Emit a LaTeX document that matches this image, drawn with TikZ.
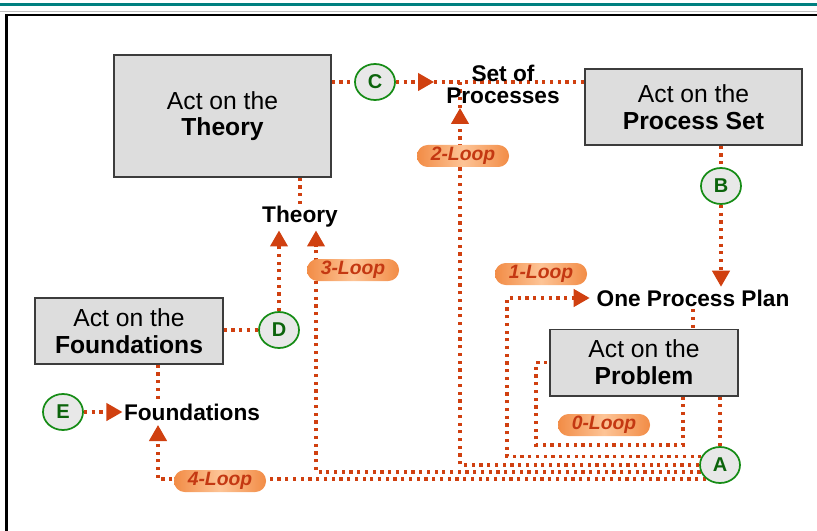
\documentclass[tikz,border=0pt]{standalone}
\usepackage{fontspec}
\setmainfont{Liberation Sans}
\usetikzlibrary{arrows.meta,calc,shapes.geometric,backgrounds}
\definecolor{flowred}{RGB}{208,64,16}
\definecolor{boxgray}{RGB}{221,221,221}
\definecolor{boxline}{RGB}{60,60,60}
\definecolor{markgreen}{RGB}{22,140,22}
\definecolor{marktext}{RGB}{12,100,12}
\definecolor{pillin}{RGB}{253,196,150}
\definecolor{pillout}{RGB}{242,140,70}
\definecolor{looptext}{RGB}{196,56,18}
\definecolor{bandteal}{RGB}{0,128,128}
\tikzset{
  act-box/.style={
    rectangle,
    draw=boxline,
    fill=boxgray,
    line width=1pt,
    align=center,
    inner sep=0pt,
    font=\fontsize{18.5}{20}\selectfont
  },
  step-circle/.style={
    ellipse,
    draw=markgreen,
    fill=black!9,
    line width=1.3pt,
    minimum width=30pt,
    minimum height=27pt,
    inner sep=0pt,
    text=marktext,
    font=\fontsize{15}{15}\selectfont\bfseries
  },
  flow-label/.style={
    align=center,
    inner sep=2pt,
    font=\fontsize{17}{16.5}\selectfont\bfseries
  },
  loop-pill/.style={
    rectangle,
    rounded corners=8pt,
    left color=pillout,
    right color=pillout,
    middle color=pillin,
    minimum width=69pt,
    minimum height=16.5pt,
    inner sep=0pt,
    text=looptext,
    font=\fontsize{14.5}{15}\selectfont\bfseries\itshape
  },
  flow/.style={
    draw=flowred,
    line width=2.4pt,
    dash pattern=on 2.4pt off 3.4pt
  },
  flow-arrow/.style={
    flow,
    -{Triangle[length=12pt,width=13pt]}
  }
}

\begin{document}
\begin{tikzpicture}[x=0.75pt,y=-0.75pt]
  \useasboundingbox (0,0) rectangle (817,531);
  % page frame
  \fill[bandteal] (0,3) rectangle (817,6.5);
  \draw[black!25, line width=0.8pt] (0,11.5) -- (817,11.5);
  \draw[line width=2.2pt] (6.5,531) |- (817,15);

  % action boxes
  \node[act-box, minimum width=162.75pt, minimum height=91.5pt] (tbox) at (222.5,116) {Act on the\\\textbf{Theory}};
  \node[act-box, minimum width=162.75pt, minimum height=57pt] (pset) at (693.5,107) {Act on the\\\textbf{Process Set}};
  \node[act-box, minimum width=141pt, minimum height=49.5pt] (fbox) at (129,331) {Act on the\\\textbf{Foundations}};
  \node[act-box, minimum width=141pt, minimum height=50pt] (prob) at (644,362.5) {Act on the\\\textbf{Problem}};

  % products
  \node[flow-label, inner xsep=9pt] (sop) at (503,84) {Set of\\Processes};
  \node[flow-label] (theory) at (300,217) {Theory};
  \node[flow-label, inner xsep=5pt] (plan) at (693,298) {One Process Plan};
  \node[flow-label, inner sep=1pt] (found) at (192,412) {Foundations};

  % steps
  \node[step-circle] (A) at (720,465) {A};
  \node[step-circle] (B) at (721,186) {B};
  \node[step-circle] (C) at (375,82) {C};
  \node[step-circle] (D) at (279,330) {D};
  \node[step-circle] (E) at (63,412) {E};

  % loops
  \node[loop-pill] (l0) at (604,425) {0-Loop};
  \node[loop-pill] (l1) at (541,274) {1-Loop};
  \node[loop-pill] (l2) at (463,156) {2-Loop};
  \node[loop-pill] (l3) at (353,270) {3-Loop};
  \node[loop-pill] (l4) at (220,481) {4-Loop};

  \coordinate (k0) at (536,445);
  \coordinate (k1) at (507,298);
  \coordinate (k2) at (460,108);
  \coordinate (k4) at (158,425);

  \begin{scope}[on background layer]
    % main chain
    \draw[flow] (tbox.east |- C) -- (C);
    \draw[flow-arrow] (C) -- (C -| sop.west);
    \draw[flow] (C -| sop.west) -- (pset.west |- C);
    \draw[flow] (pset.south -| B) -- (B);
    \draw[flow-arrow] (B) -- (B |- plan.north);
    \draw[flow] (plan.south) -- (plan.south |- prob.north);
    \draw[flow] (prob.south -| A) -- (A.north);
    \draw[flow] (theory.north |- tbox.south) -- (theory.north);
    \draw[flow] (fbox.east |- D) -- (D);
    \draw[flow-arrow] (D) -- (D |- theory.south);
    \draw[flow] (fbox.south -| k4) -- (k4 |- found.north);
    \draw[flow-arrow] (E) -- (found.west);
    % loops back from A
    \draw[flow] ($(prob.south)+(39,0)$) |- (k0) |- (prob.west);
    \draw[flow-arrow] (A.155) -| (k1) -- (plan.west);
    \draw[flow-arrow] (A.180) -| (k2);
    \draw[flow] (k2) -- (k2 |- C);
    \draw[flow-arrow] (A.200) -| ($(theory.south)+(16,0)$);
    \draw[flow-arrow] (A.225) -| (k4);
  \end{scope}
\end{tikzpicture}
\end{document}
